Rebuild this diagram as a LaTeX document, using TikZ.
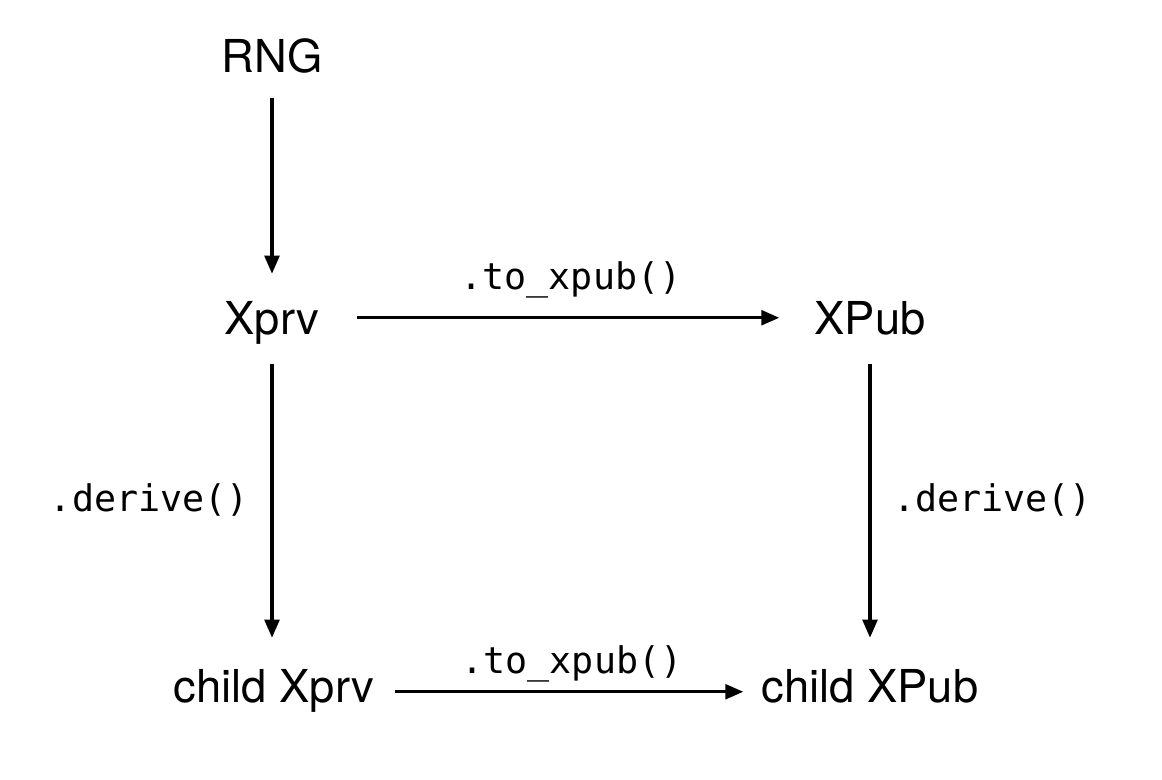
\documentclass[tikz,border=0pt]{standalone}
\usepackage{fontspec}
\setmainfont{TeX Gyre Heros}
\setmonofont{DejaVu Sans Mono}
\usetikzlibrary{arrows.meta}

\begin{document}
\begin{tikzpicture}[x=0.75pt,y=-0.75pt,
	key/.style={font=\fontsize{34}{40}\selectfont, inner sep=0pt, text height=24.4pt, text depth=0pt, anchor=base},
	call/.style={font=\ttfamily\fontsize{27.5}{32}\selectfont, inner sep=0pt, anchor=base},
	link/.style={line width=2.5pt, -{Triangle[length=13.5pt,width=11pt]}}]
			\useasboundingbox (0,0) rectangle (1162,779);
			\node[key] (rng) at (272,72) {RNG};
			\node[key] (xprv) at (272,334) {Xprv};
			\node[key] (xpub) at (870,334) {XPub};
			\node[key] (cxprv) at (274,702) {child Xprv};
			\node[key] (cxpub) at (870,702) {child XPub};
			\draw[link, shorten <=32pt, shorten >=33pt] (rng.center) -- (xprv.center);
			\draw[link, shorten <=64pt, shorten >=68pt] (xprv.center) -- (xpub.center)
				node[call, midway, yshift=21pt] (top) {.to\_xpub()};
			\draw[link, shorten <=34.5pt, shorten >=36pt] (xprv.center) -- (xprv.center |- cxprv.center)
				node[call, midway, xshift=-92pt, yshift=-7.5pt] (left) {.derive()};
			\draw[link, shorten <=34.5pt, shorten >=36pt] (xpub.center) -- (cxpub.center)
				node[call, midway, xshift=92pt, yshift=-7.5pt] (right) {.derive()};
			\draw[link, shorten <=91pt, shorten >=95pt] ([yshift=-4.5pt]cxprv.center) -- ([yshift=-4.5pt]cxpub.center)
				node[call, midway, yshift=14pt] (bottom) {.to\_xpub()};
\end{tikzpicture}
\end{document}
